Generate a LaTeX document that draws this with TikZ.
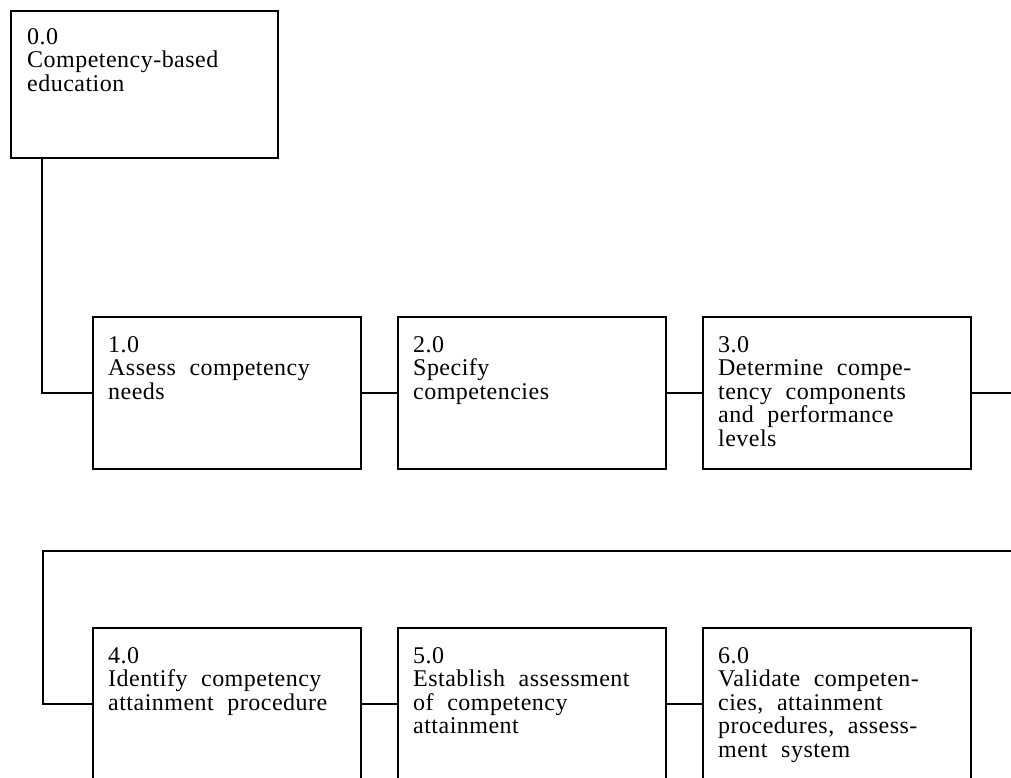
\documentclass[tikz,border=0pt]{standalone}
\usepackage{fontspec}
\setmainfont[LetterSpace=2,WordSpace=2.1]{Liberation Serif}
\begin{document}
\begin{tikzpicture}[x=0.75pt,y=-0.75pt,
  box/.style={draw, line width=1.6pt, inner sep=0pt, minimum width=201pt, minimum height=114pt},
  lbl/.style={anchor=north west, align=left, inner sep=0pt, font=\fontsize{18}{17.6}\selectfont},
  wire/.style={line width=1.6pt}]
\useasboundingbox (0,0) rectangle (1011,778);
\node[box, minimum width=200.25pt, minimum height=110.25pt] (b0) at (144.5,84.5) {};
\node[box] (b1) at (227,393) {};
\node[box] (b2) at (532,393) {};
\node[box] (b3) at (837,393) {};
\node[box] (b4) at (227,704) {};
\node[box] (b5) at (532,704) {};
\node[box] (b6) at (837,704) {};
\node[lbl] (t0) at ([shift={(17,18)}]b0.north west) {0.0\\Competency-based\\education};
\node[lbl] (t1) at ([shift={(16,20)}]b1.north west) {1.0\\Assess competency\\needs};
\node[lbl] (t2) at ([shift={(16,20)}]b2.north west) {2.0\\Specify\\competencies};
\node[lbl] (t3) at ([shift={(16,20)}]b3.north west) {3.0\\Determine compe-\\tency components\\and performance\\levels};
\node[lbl] (t4) at ([shift={(16,20)}]b4.north west) {4.0\\Identify competency\\attainment procedure};
\node[lbl] (t5) at ([shift={(16,20)}]b5.north west) {5.0\\Establish assessment\\of competency\\attainment};
\node[lbl] (t6) at ([shift={(16,20)}]b6.north west) {6.0\\Validate competen-\\cies, attainment\\procedures, assess-\\ment system};
\coordinate (r1) at (1011,393);
\coordinate (r2) at (1011,551);
\coordinate (k) at (43,551);
\draw[wire] (b0.south west) ++(32,0) |- (b1.west);
\draw[wire] (b1.east) -- (b2.west);
\draw[wire] (b2.east) -- (b3.west);
\draw[wire] (b3.east) -- (r1);
\draw[wire] (r2) -- (k) |- (b4.west);
\draw[wire] (b4.east) -- (b5.west);
\draw[wire] (b5.east) -- (b6.west);
\end{tikzpicture}
\end{document}
